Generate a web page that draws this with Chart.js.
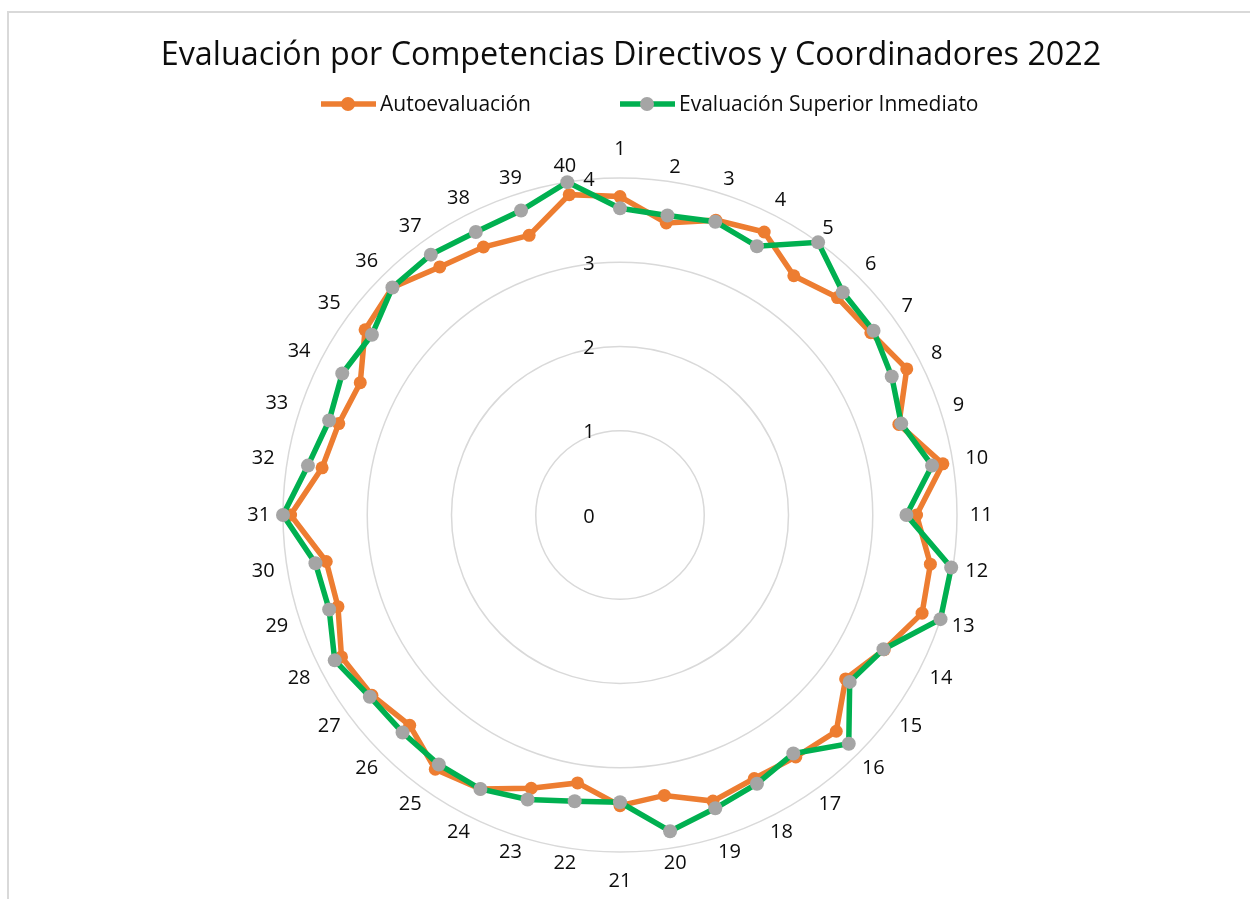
<!DOCTYPE html>
<html>
<head>
<meta charset="utf-8">
<title>Evaluación por Competencias</title>
<script src="https://cdn.jsdelivr.net/npm/chart.js@4"></script>
<style>
  html, body { margin:0; padding:0; background:#fff; overflow:hidden; }
  #wrap { position:relative; width:1250px; height:899px; }
</style>
</head>
<body>
<div id="wrap"><canvas id="radar" width="1250" height="899"></canvas></div>
<script>
// competencies 1..40
const competencias = ['1','2','3','4','5','6','7','8','9','10','11','12','13','14','15','16','17','18','19','20',
  '21','22','23','24','25','26','27','28','29','30','31','32','33','34','35','36','37','38','39','40'];

const autoevaluacion = [3.78, 3.51, 3.68, 3.77, 3.51, 3.65, 3.68, 3.82, 3.48, 3.88,
  3.52, 3.73, 3.77, 3.52, 3.31, 3.63, 3.55, 3.51, 3.57, 3.37,
  3.45, 3.22, 3.41, 3.65, 3.73, 3.53, 3.64, 3.71, 3.52, 3.53,
  3.91, 3.58, 3.51, 3.46, 3.74, 3.82, 3.64, 3.57, 3.49, 3.85];

const superiorInmediato = [3.64, 3.60, 3.66, 3.58, 4.00, 3.74, 3.72, 3.62, 3.51, 3.75,
  3.40, 3.98, 4.00, 3.51, 3.37, 3.84, 3.50, 3.58, 3.66, 3.80,
  3.41, 3.44, 3.55, 3.65, 3.66, 3.65, 3.67, 3.80, 3.63, 3.66,
  4.00, 3.75, 3.63, 3.70, 3.64, 3.82, 3.82, 3.77, 3.80, 4.00];

const escala = ['0','1','2','3','4'];

const titulo = 'Evaluación por Competencias Directivos y Coordinadores 2022';
const FONT = '"Open Sans", "Liberation Sans", sans-serif';
const TXT = '#0d0d0d';
const ORANGE = '#ED7D31', GREEN = '#00B050', GRAY = '#A5A5A5';

// title, legend, frame, point and tick labels drawn Excel-style
const excelLook = {
  id: 'excelLook',
  beforeDraw(chart) {
    const ctx = chart.ctx;
    ctx.save();
    ctx.strokeStyle = '#d9d9d9';
    ctx.lineWidth = 2;
    ctx.beginPath();
    ctx.moveTo(8, 899); ctx.lineTo(8, 12); ctx.lineTo(1250, 12);
    ctx.stroke();
    ctx.restore();
  },
  beforeDatasetsDraw(chart) {
    const ctx = chart.ctx, r = chart.scales.r;
    ctx.save();
    ctx.fillStyle = TXT;
    ctx.font = '20px ' + FONT;
    ctx.textAlign = 'center';
    ctx.textBaseline = 'middle';
    // tick labels, left of the vertical axis
    escala.forEach((t, i) => {
      const y = r.yCenter - r.getDistanceFromCenterForValue(+t);
      ctx.fillText(t, r.xCenter - 31, y + 2);
    });
    // category labels round the outside
    competencias.forEach((lab, i) => {
      const w = ctx.measureText(lab).width;
      const a = r.getIndexAngle(i);
      let d = 351 + 0.9 * (w / 2) * Math.abs(Math.sin(a));
      if (i === 0 || i === 20) d = 366;
      const p = r.getPointPosition(i, d);
      ctx.fillText(lab, p.x, p.y);
    });
    ctx.restore();
  },
  afterDraw(chart) {
    const ctx = chart.ctx;
    ctx.save();
    ctx.fillStyle = TXT;
    ctx.textAlign = 'center';
    ctx.textBaseline = 'middle';
    ctx.font = '32.3px ' + FONT;
    ctx.fillText(titulo, 631, 56);

    // legend
    ctx.font = '21px ' + FONT;
    ctx.textAlign = 'left';
    chart.data.datasets.slice().reverse().forEach((ds, k) => {
      const x0 = k === 0 ? 321 : 620, y = 104;
      ctx.strokeStyle = ds.borderColor;
      ctx.lineWidth = 5.5;
      ctx.beginPath(); ctx.moveTo(x0, y); ctx.lineTo(x0 + 55, y); ctx.stroke();
      ctx.fillStyle = ds.pointBackgroundColor;
      ctx.beginPath(); ctx.arc(x0 + 27, y, 7, 0, Math.PI * 2); ctx.fill();
      ctx.fillStyle = TXT;
      ctx.fillText(ds.label, x0 + 59, y + 1);
    });
    ctx.restore();
  }
};

new Chart(document.getElementById('radar').getContext('2d'), {
  type: 'radar',
  data: {
    labels: competencias,
    datasets: [
      { label: 'Evaluación Superior Inmediato', data: superiorInmediato, order: 0,
        borderColor: GREEN, borderWidth: 5.5, fill: false, tension: 0,
        pointRadius: 7, pointBackgroundColor: GRAY, pointBorderColor: GRAY, pointBorderWidth: 0 },
      { label: 'Autoevaluación', data: autoevaluacion, order: 1,
        borderColor: ORANGE, borderWidth: 5.5, fill: false, tension: 0,
        pointRadius: 6.5, pointBackgroundColor: ORANGE, pointBorderColor: ORANGE, pointBorderWidth: 0 }
    ]
  },
  options: {
    responsive: false,
    animation: false,
    layout: { padding: { top: 178, bottom: 47, left: 283, right: 293 } },
    plugins: { legend: { display: false }, title: { display: false }, tooltip: { enabled: false } },
    scales: {
      r: {
        min: 0, max: 4,
        ticks: { display: false, stepSize: 1 },
        grid: { circular: true, color: '#d9d9d9', lineWidth: 1.5 },
        angleLines: { display: false },
        pointLabels: { display: false }
      }
    }
  },
  plugins: [excelLook]
});
</script>
</body>
</html>
